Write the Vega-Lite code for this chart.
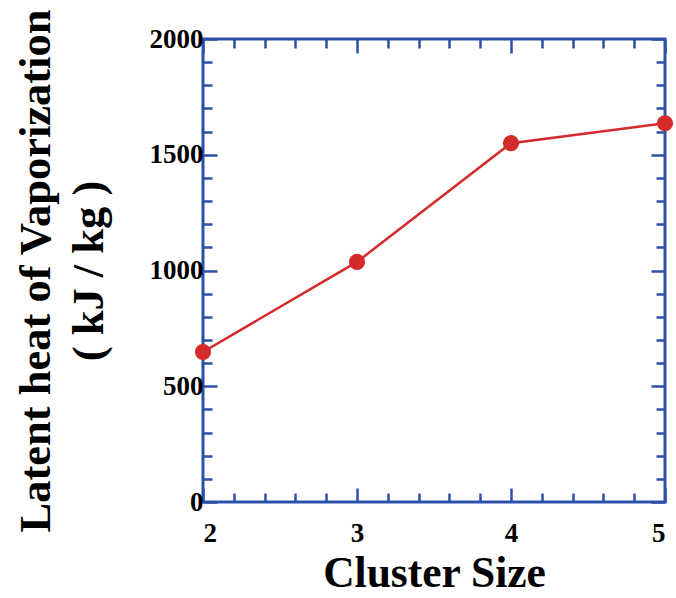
{
  "$schema": "https://vega.github.io/schema/vega-lite/v6.json",
  "width": 462,
  "height": 463,
  "autosize": "none",
  "padding": {"left": 203, "top": 39, "right": 11, "bottom": 96},
  "background": "white",
  "config": {
    "view": {"stroke": "#2c50a8", "strokeWidth": 3},
    "font": "Liberation Serif"
  },
  "data": {
    "values": [
      {"size": 2, "heat": 648},
      {"size": 3, "heat": 1037},
      {"size": 4, "heat": 1550},
      {"size": 5, "heat": 1636}
    ]
  },
  "layer": [
    {
      "mark": {"type": "line", "color": "#d42a2a", "strokeWidth": 2.5},
      "encoding": {
        "x": {
          "field": "size", "type": "quantitative",
          "scale": {"domain": [2, 5], "nice": false, "zero": false},
          "axis": {
            "orient": "bottom",
            "values": [2, 2.2, 2.4, 2.6, 2.8, 3, 3.2, 3.4, 3.6, 3.8, 4, 4.2, 4.4, 4.6, 4.8, 5],
            "tickSize": {"condition": {"test": "datum.value % 1 === 0", "value": -14}, "value": -9},
            "tickColor": "#2c50a8", "tickWidth": 2.5,
            "domain": false, "grid": false,
            "labelExpr": "datum.value % 1 === 0 ? format(datum.value, 'd') : ''",
            "labelFont": "Liberation Serif", "labelFontWeight": "bold", "labelFontSize": 27, "labelColor": "black",
            "labelPadding": 32,
            "title": "Cluster Size",
            "titleFont": "Liberation Serif", "titleFontWeight": "bold", "titleFontSize": 43.5, "titleColor": "black",
            "titlePadding": 6
          }
        },
        "y": {
          "field": "heat", "type": "quantitative",
          "scale": {"domain": [0, 2000], "nice": false},
          "axis": {
            "orient": "left",
            "values": [0, 100, 200, 300, 400, 500, 600, 700, 800, 900, 1000, 1100, 1200, 1300, 1400, 1500, 1600, 1700, 1800, 1900, 2000],
            "tickSize": {"condition": {"test": "datum.value % 500 === 0", "value": -14}, "value": -9},
            "tickColor": "#2c50a8", "tickWidth": 2.5,
            "domain": false, "grid": false,
            "labelExpr": "datum.value % 500 === 0 ? format(datum.value, 'd') : ''",
            "labelFont": "Liberation Serif", "labelFontWeight": "bold", "labelFontSize": 27, "labelColor": "black",
            "labelPadding": 14,
            "title": ["Latent heat of Vaporization", "( kJ / kg )"],
            "titleFont": "Liberation Serif", "titleFontWeight": "bold", "titleFontSize": 44.5, "titleColor": "black",
            "titleLineHeight": 53,
            "titlePadding": 38
          }
        }
      }
    },
    {
      "mark": {"type": "circle", "color": "#d42a2a", "size": 260, "opacity": 1},
      "encoding": {
        "x": {
          "field": "size", "type": "quantitative",
          "scale": {"domain": [2, 5], "nice": false, "zero": false},
          "axis": {
            "orient": "top",
            "values": [2, 2.2, 2.4, 2.6, 2.8, 3, 3.2, 3.4, 3.6, 3.8, 4, 4.2, 4.4, 4.6, 4.8, 5],
            "tickSize": {"condition": {"test": "datum.value % 1 === 0", "value": -14}, "value": -9},
            "tickColor": "#2c50a8", "tickWidth": 2.5,
            "domain": false, "grid": false, "labels": false, "title": null
          }
        },
        "y": {
          "field": "heat", "type": "quantitative",
          "scale": {"domain": [0, 2000], "nice": false},
          "axis": {
            "orient": "right",
            "values": [0, 100, 200, 300, 400, 500, 600, 700, 800, 900, 1000, 1100, 1200, 1300, 1400, 1500, 1600, 1700, 1800, 1900, 2000],
            "tickSize": {"condition": {"test": "datum.value % 500 === 0", "value": -14}, "value": -9},
            "tickColor": "#2c50a8", "tickWidth": 2.5,
            "domain": false, "grid": false, "labels": false, "title": null
          }
        }
      }
    }
  ],
  "resolve": {"axis": {"x": "independent", "y": "independent"}}
}
